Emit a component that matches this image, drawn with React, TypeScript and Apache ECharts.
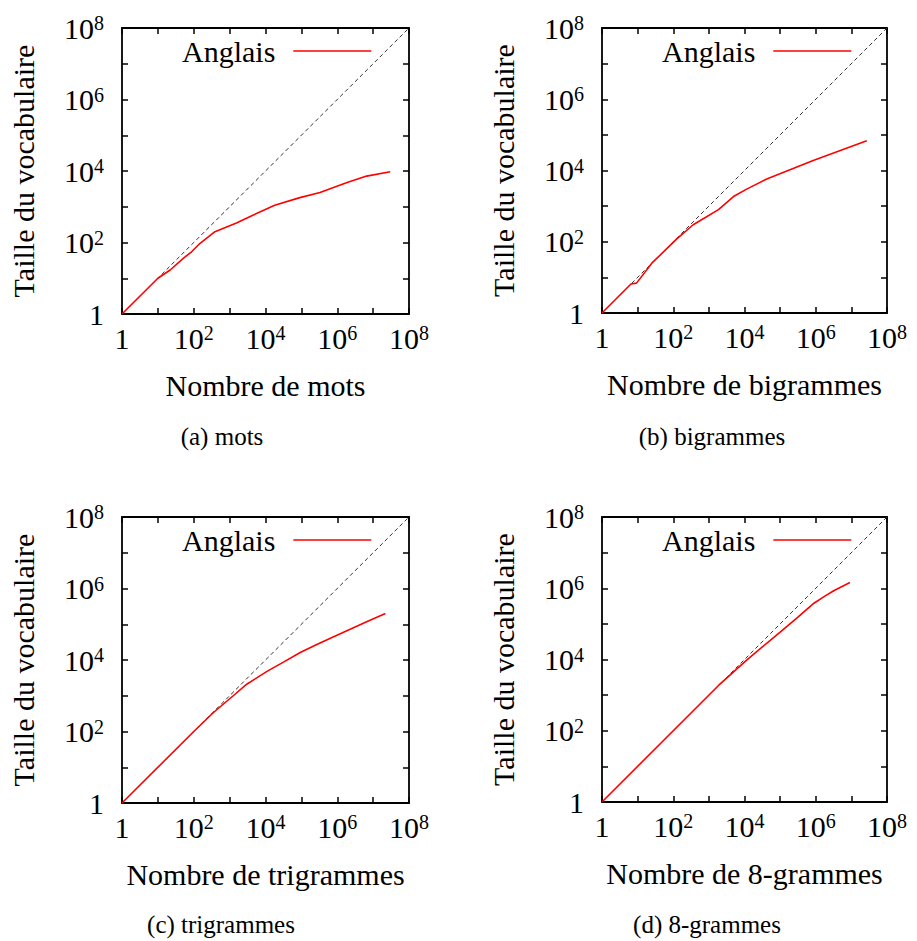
import React, { useEffect, useRef } from "react";
import * as echarts from "echarts";

// (a) mots
const X_A = [1, 10, 22, 51, 87, 150, 390, 1550, 4600, 18000, 91000, 330000, 1.8e6, 6.6e6, 3e7];
const Y_A = [1, 10, 17, 36, 55, 95, 200, 350, 590, 1100, 1800, 2500, 4700, 7200, 9500];
// (b) bigrammes
const X_B = [1, 6.5, 9.3, 25, 126, 363, 1860, 4900, 11500, 42000, 850000, 2.7e7];
const Y_B = [1, 6.5, 6.9, 25, 120, 300, 800, 1860, 3000, 5750, 19000, 68000];
// (c) trigrammes
const X_C = [1, 100, 355, 1260, 3000, 11000, 31600, 93000, 251000, 794000, 6.6e6, 2.2e7];
const Y_C = [1, 100, 340, 1000, 2100, 4800, 8700, 16200, 26300, 44700, 117000, 200000];
// (d) 8-grammes
const X_D = [1, 50, 1900, 11700, 102000, 316000, 890000, 1.8e6, 3.2e6, 9.1e6];
const Y_D = [1, 50, 1900, 9800, 60000, 155000, 380000, 600000, 850000, 1.45e6];

const DIAG = [1, 1e8];
const X_NAMES = ["Nombre de mots", "Nombre de bigrammes", "Nombre de trigrammes", "Nombre de 8-grammes"];
const Y_NAME = "Taille du vocabulaire";
const CAPTIONS = ["(a) mots", "(b) bigrammes", "(c) trigrammes", "(d) 8-grammes"];
const LEGEND_NAME = "Anglais";

const FONT = "Liberation Serif";

const GRIDS = [
  { left: 122, top: 28, width: 287, height: 286 },
  { left: 602, top: 28, width: 285, height: 285 },
  { left: 122, top: 517, width: 287, height: 286 },
  { left: 602, top: 517, width: 285, height: 285 },
];
const CAPTION_POS = [
  [222, 436],
  [712, 436],
  [221, 924],
  [707, 924],
];

const rich = {
  b: { fontSize: 30, fontFamily: FONT, color: "#000", lineHeight: 30, verticalAlign: "bottom" },
  s: { fontSize: 20, fontFamily: FONT, color: "#000", lineHeight: 18, verticalAlign: "top" },
};

const fmt = (v: number) => {
  const e = Math.round(Math.log10(v));
  if (e === 0) return "{b|1}";
  if (e % 2 !== 0) return "";
  return `{b|10}{s|${e}}`;
};

export default function App() {
  const ref = useRef<HTMLDivElement>(null);
  useEffect(() => {
    if (!ref.current) return;
    const chart = echarts.init(ref.current, null, { renderer: "svg" });
    const DATA = [
      [X_A, Y_A],
      [X_B, Y_B],
      [X_C, Y_C],
      [X_D, Y_D],
    ];
    const lineAxis = { show: true, lineStyle: { color: "#000", width: 1.8 } };
    const tick = { show: true, inside: true, length: 6, lineStyle: { color: "#000", width: 1.5 } };
    const xAxis: any[] = [];
    const yAxis: any[] = [];
    const series: any[] = [];
    const legend: any[] = [];
    GRIDS.forEach((g, i) => {
      const base = { type: "log", logBase: 10, min: 1, max: 1e8, interval: 1, gridIndex: i, splitLine: { show: false }, axisLine: lineAxis, axisTick: tick, minorTick: { show: false } };
      xAxis.push({
        ...base,
        position: "bottom",
        name: X_NAMES[i],
        nameLocation: "middle",
        nameGap: 56,
        nameTextStyle: { fontSize: 30, fontFamily: FONT, color: "#000" },
        axisLabel: { show: true, formatter: fmt, rich, margin: 9, showMinLabel: true, showMaxLabel: true, hideOverlap: false },
      });
      xAxis.push({ ...base, position: "top", axisLabel: { show: false } });
      yAxis.push({
        ...base,
        position: "left",
        name: Y_NAME,
        nameLocation: "middle",
        nameGap: 84,
        nameRotate: 90,
        nameTextStyle: { fontSize: 30, fontFamily: FONT, color: "#000" },
        axisLabel: { show: true, formatter: fmt, rich, margin: 18, showMinLabel: true, showMaxLabel: true, hideOverlap: false },
      });
      yAxis.push({ ...base, position: "right", axisLabel: { show: false } });
      const [xs, ys] = DATA[i];
      series.push({
        name: "diag" + i,
        type: "line",
        xAxisIndex: 2 * i,
        yAxisIndex: 2 * i,
        data: DIAG.map((d) => [d, d]),
        symbol: "none",
        lineStyle: { color: "#333", width: 1, type: [4, 3] },
        silent: true,
      });
      series.push({
        name: LEGEND_NAME,
        type: "line",
        xAxisIndex: 2 * i,
        yAxisIndex: 2 * i,
        data: xs.map((x, k) => [x, ys[k]]),
        symbol: "none",
        smooth: false,
        color: "#ff0000",
        lineStyle: { color: "#ff0000", width: 1.6 },
      });
      legend.push({
        data: [LEGEND_NAME],
        left: g.left + 60,
        top: g.top + 8,
        orient: "horizontal",
        align: "right",
        padding: 0,
        icon: "rect",
        itemWidth: 78,
        itemHeight: 1.6,
        itemStyle: { color: "#ff0000", borderWidth: 0 },
        selectedMode: false,
        textStyle: { fontSize: 30, fontFamily: FONT, color: "#000", padding: [0, 13, 0, 0] },
      });
    });
    chart.setOption({
      animation: false,
      backgroundColor: "#fff",
      grid: GRIDS.map((g) => ({ ...g, containLabel: false })),
      xAxis,
      yAxis,
      series,
      legend,
      graphic: CAPTIONS.map((c, i) => ({
        type: "text",
        x: CAPTION_POS[i][0],
        y: CAPTION_POS[i][1],
        style: { text: c, font: `25px "${FONT}"`, fill: "#000", align: "center", verticalAlign: "middle", textAlign: "center", textVerticalAlign: "middle" },
      })),
    });
    return () => chart.dispose();
  }, []);
  return <div ref={ref} style={{ position: "absolute", left: 0, top: 0, width: 917, height: 941 }} />;
}
